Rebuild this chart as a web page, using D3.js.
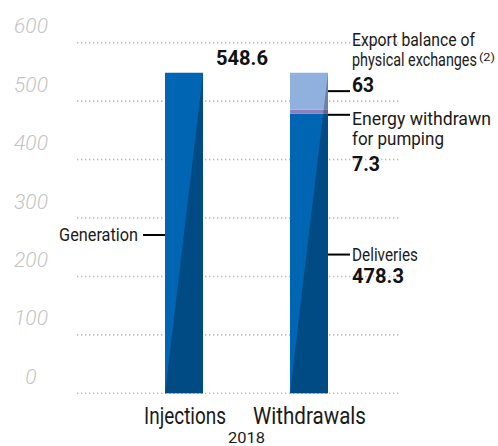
<!DOCTYPE html>
<html>
<head>
<meta charset="utf-8">
<script src="https://cdn.jsdelivr.net/npm/d3@7"></script>
<style>
  html, body { margin: 0; padding: 0; background: #fff; }
  svg { display: block; }
  .lbl { font-family: "Roboto", "Liberation Sans", sans-serif; fill: #1a1a1a; }
  .num { font-family: "Roboto", "Liberation Sans", sans-serif; font-weight: bold; fill: #111; }
  .tick { font-family: "Roboto", sans-serif; font-style: italic; font-weight: 300; fill: #c4c4c4; }
</style>
</head>
<body>
<svg id="chart" width="498" height="446"></svg>
<script>
// ---- data ----
const categories = ["Injections", "Withdrawals"];
const injectionSeries = ["Generation"];
const injectionValues = [548.6];
const withdrawalSeries = ["Deliveries", "Energy withdrawn for pumping", "Export balance of physical exchanges"];
const withdrawalValues = [478.3, 7.3, 63];
const yTickValues = [0, 100, 200, 300, 400, 500, 600];
const yearLabel = "2018";

// ---- layout ----
const svg = d3.select("#chart");
const y = d3.scaleLinear().domain([0, 600]).range([393.3, 42.7]);
const x = d3.scalePoint().domain(categories).range([184, 309]);
const barW = 38;

const colors = {
  "Generation": "#0066b3",
  "Deliveries": "#0066b3",
  "Energy withdrawn for pumping": "#8a7fbf",
  "Export balance of physical exchanges": "#90b1de"
};

// gridlines
svg.append("g").selectAll("line").data(yTickValues).join("line")
  .attr("x1", 77).attr("x2", 400)
  .attr("y1", d => y(d)).attr("y2", d => y(d))
  .attr("stroke", "#bdbdbd").attr("stroke-width", 1.6)
  .attr("stroke-dasharray", "1.4,2.6");

// tick labels
svg.append("g").selectAll("text").data(yTickValues).join("text")
  .attr("class", "tick")
  .attr("x", 31).attr("y", d => y(d) - 9.5)
  .attr("text-anchor", "middle")
  .attr("font-size", 21)
  .text(d => d);

// stacked segments
function stack(names, values) {
  let acc = 0;
  return names.map((n, i) => { const s = { name: n, y0: acc, y1: acc + values[i] }; acc += values[i]; return s; });
}
const bars = [
  { cat: categories[0], segs: stack(injectionSeries, injectionValues) },
  { cat: categories[1], segs: stack(withdrawalSeries, withdrawalValues) }
];

bars.forEach(b => {
  const g = svg.append("g");
  const x0 = x(b.cat) - barW / 2;
  g.selectAll("rect").data(b.segs).join("rect")
    .attr("x", x0).attr("width", barW)
    .attr("y", d => y(d.y1)).attr("height", d => y(d.y0) - y(d.y1))
    .attr("fill", d => colors[d.name]);
  const total = b.segs[b.segs.length - 1].y1;
  // diagonal shading (lower-right triangle)
  g.append("path")
    .attr("d", `M${x0},${y(0)} L${x0 + barW},${y(0)} L${x0 + barW},${y(total)} Z`)
    .attr("fill", "#000").attr("fill-opacity", 0.26);
});

// ---- annotations ----
const ann = svg.append("g");
function leader(x1, x2, yy) {
  ann.append("line").attr("x1", x1).attr("x2", x2).attr("y1", yy).attr("y2", yy)
    .attr("stroke", "#000").attr("stroke-width", 2);
}
// text narrowed horizontally to match the condensed face of the original
function label(txt, xx, yy, w, opts = {}) {
  const t = ann.append("text").attr("class", opts.cls || "lbl")
    .attr("font-size", opts.size || 17.5)
    .attr("x", 0).attr("y", 0)
    .attr("text-anchor", opts.anchor || "start")
    .text(txt);
  let sx = 1;
  if (w) {
    const nat = t.node().getComputedTextLength();
    if (nat > 0) sx = w / nat;
  }
  t.attr("transform", `translate(${xx},${yy}) scale(${sx},1)`);
  return t;
}
const inj = bars[0].segs[0];
const wd = bars[1].segs;
const xi = x(categories[0]) - barW / 2;
const xw = x(categories[1]) + barW / 2;

// total injections
label(d3.format(".1f")(injectionValues[0]), 216, 65, 52, { cls: "num", size: 21 });

// Generation
const gy = y((inj.y0 + inj.y1) / 2) + 2;
leader(143, xi, gy);
label(injectionSeries[0], 138, gy + 6, 79, { anchor: "end" });

// Export balance
const ey = y((wd[2].y0 + wd[2].y1) / 2);
leader(xw, 350, ey);
label("Export balance of", 352, 46, 123);
label("physical exchanges", 352, 66, 125);
label("(2)", 479, 61, 16, { size: 11 });
label(String(withdrawalValues[2]), 352, 92, 22, { cls: "num", size: 21 });

// Pumping
const py = y(wd[0].y1) + 1;
leader(xw, 350, py);
label("Energy withdrawn", 352, 125, 139);
label("for pumping", 352, 145, 92);
label(String(withdrawalValues[1]), 352, 171, 28, { cls: "num", size: 21 });

// Deliveries
const dy = y((wd[0].y0 + wd[0].y1) / 2) + 1;
leader(xw, 350, dy);
label(withdrawalSeries[0], 352, dy + 6, 66);
label(String(withdrawalValues[0]), 352, 283, 52, { cls: "num", size: 21 });

// category labels
const catW = { "Injections": 82, "Withdrawals": 113 };
categories.forEach(c => {
  label(c, x(c) + (c === "Injections" ? 1 : 0.5), 424, catW[c], { size: 23, anchor: "middle" });
});

label(yearLabel, 246.5, 443, 37, { size: 15.5, anchor: "middle" });
</script>
</body>
</html>
